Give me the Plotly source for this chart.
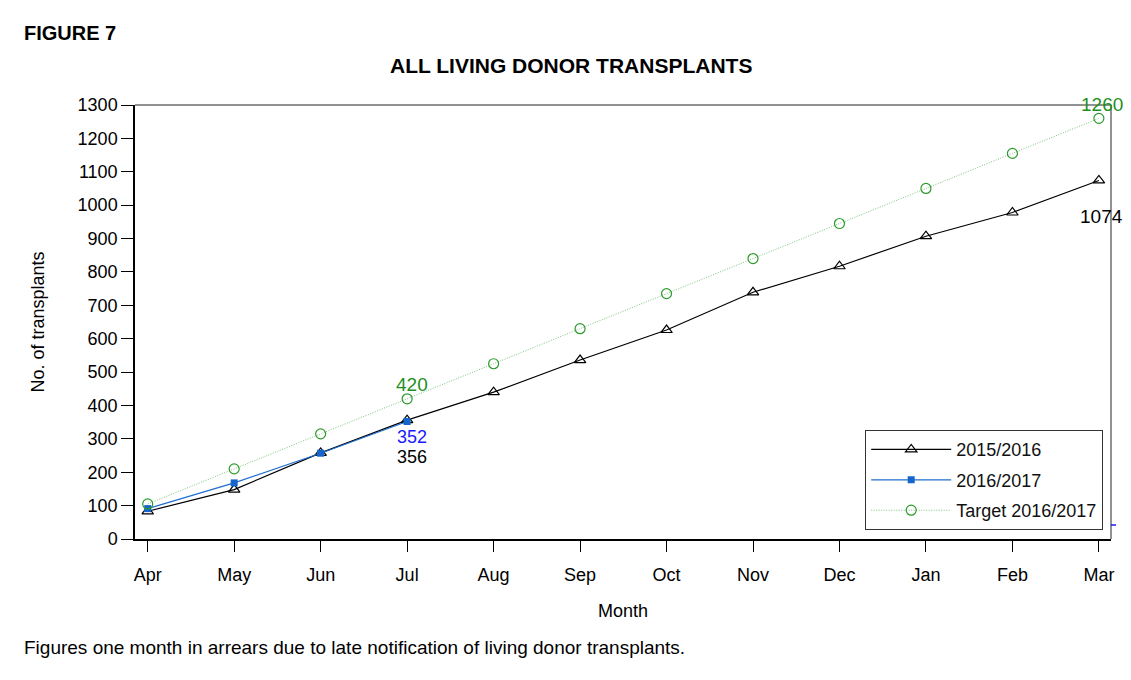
import plotly.graph_objects as go

months = ["Apr", "May", "Jun", "Jul", "Aug", "Sep", "Oct", "Nov", "Dec", "Jan", "Feb", "Mar"]
y_2015_16 = [83, 148, 258, 356, 440, 536, 626, 739, 817, 907, 978, 1074]
months_2016_17 = ["Apr", "May", "Jun", "Jul"]
y_2016_17 = [91, 168, 257, 352]
y_target = [105, 210, 315, 420, 525, 630, 735, 840, 945, 1050, 1155, 1260]
y_ticks = list(range(0, 1301, 100))

FONT = "Arial, Liberation Sans, sans-serif"

# page offset (default body margin of the html page)
OX, OY = 8, 8
W, H = 1131 - OX, 680 - OY
L, R, T, B = 135 - OX, 20, 105 - OY, 141
pw, ph = W - L - R, H - T - B


def px(xp):
    return (xp - OX - L) / pw


def py(yp):
    return (H - B - (yp - OY)) / ph


fig = go.Figure()
fig.add_trace(go.Scatter(
    x=months, y=y_2015_16, name="2015/2016", mode="lines+markers", legendgroup="a",
    line=dict(color="black", width=1.2),
    marker=dict(symbol="triangle-up-open", size=10, color="black", line=dict(width=1.2)),
))
fig.add_trace(go.Scatter(
    x=months_2016_17, y=y_2016_17, name="2016/2017", mode="lines+markers", legendgroup="b",
    line=dict(color="#1f6fd0", width=1.2),
    marker=dict(symbol="square", size=7, color="#1565cc"),
))
fig.add_trace(go.Scatter(
    x=months, y=y_target, name="Target 2016/2017", mode="lines+markers", legendgroup="c",
    line=dict(color="#7cc47c", width=1, dash="1px,1.5px"),
    marker=dict(symbol="circle-open", size=10, color="#2a9a2a", line=dict(width=1.2)),
))


def lab(x, y, text, color, xs, ys, size=19):
    fig.add_annotation(x=x, y=y, xref="x", yref="y", text=text, showarrow=False,
                       font=dict(family=FONT, size=size, color=color), xshift=xs, yshift=ys)


lab("Jul", y_target[3], str(y_target[3]), "#1f8f1f", 5, 14)
lab("Jul", y_2016_17[3], str(y_2016_17[3]), "#1a1aff", 5, -16, 18)
lab("Jul", y_2015_16[3], str(y_2015_16[3]), "black", 5, -37, 18)
lab("Mar", y_target[-1], str(y_target[-1]), "#1f8f1f", 3, 14)
lab("Mar", y_2015_16[-1], str(y_2015_16[-1]), "black", 3, -36)

fig.add_annotation(x=px(22), y=py(33), xref="paper", yref="paper", xanchor="left", yanchor="middle",
                   text="<b>FIGURE 7</b>", showarrow=False,
                   font=dict(family=FONT, size=20, color="black"))
fig.add_annotation(x=px(571), y=py(66), xref="paper", yref="paper", xanchor="center", yanchor="middle",
                   text="<b>ALL LIVING DONOR TRANSPLANTS</b>", showarrow=False,
                   font=dict(family=FONT, size=21, color="black"))
fig.add_annotation(x=px(22), y=py(647), xref="paper", yref="paper", xanchor="left", yanchor="middle",
                   text="Figures one month in arrears due to late notification of living donor transplants.",
                   showarrow=False, font=dict(family=FONT, size=19, color="black"))

# frame lines (top, right) in gray
fig.add_shape(type="line", xref="paper", yref="paper", x0=0, x1=1, y0=1, y1=1,
              line=dict(color="#6e6e6e", width=1.5))
fig.add_shape(type="line", xref="paper", yref="paper", x0=1, x1=1, y0=0, y1=1,
              line=dict(color="#6e6e6e", width=1.5))
# small blue tick at right border
fig.add_shape(type="line", xref="paper", yref="paper", x0=px(1111), x1=px(1116), y0=py(525), y1=py(525),
              line=dict(color="#1a1aff", width=1.5))

fig.update_layout(
    width=W, height=H,
    margin=dict(l=L, r=R, t=T, b=B, autoexpand=False),
    paper_bgcolor="white", plot_bgcolor="white",
    font=dict(family=FONT, size=17, color="black"),
    showlegend=True,
    legend=dict(
        x=px(1103), y=py(530), xanchor="right", yanchor="bottom",
        bordercolor="#333333", borderwidth=1.2, bgcolor="white",
        font=dict(family=FONT, size=18, color="#111111"),
        itemwidth=80, tracegroupgap=4,
    ),
    xaxis=dict(
        type="category", categoryorder="array", categoryarray=months,
        range=[-0.147, 11.14],
        showline=True, linecolor="black", linewidth=1.5,
        ticks="outside", ticklen=11, tickcolor="black", tickwidth=1,
        ticklabelstandoff=8,
        showgrid=False, zeroline=False,
        tickfont=dict(family=FONT, size=18),
        title=dict(text="Month", font=dict(family=FONT, size=18), standoff=20),
    ),
    yaxis=dict(
        range=[0, 1300], tickvals=y_ticks,
        showline=True, linecolor="black", linewidth=1.5,
        ticks="outside", ticklen=12, tickcolor="black", tickwidth=1,
        showgrid=False, zeroline=False,
        tickfont=dict(family=FONT, size=18),
        title=dict(text="No. of transplants", font=dict(family=FONT, size=18), standoff=28),
    ),
)

fig.write_html("out.html")
